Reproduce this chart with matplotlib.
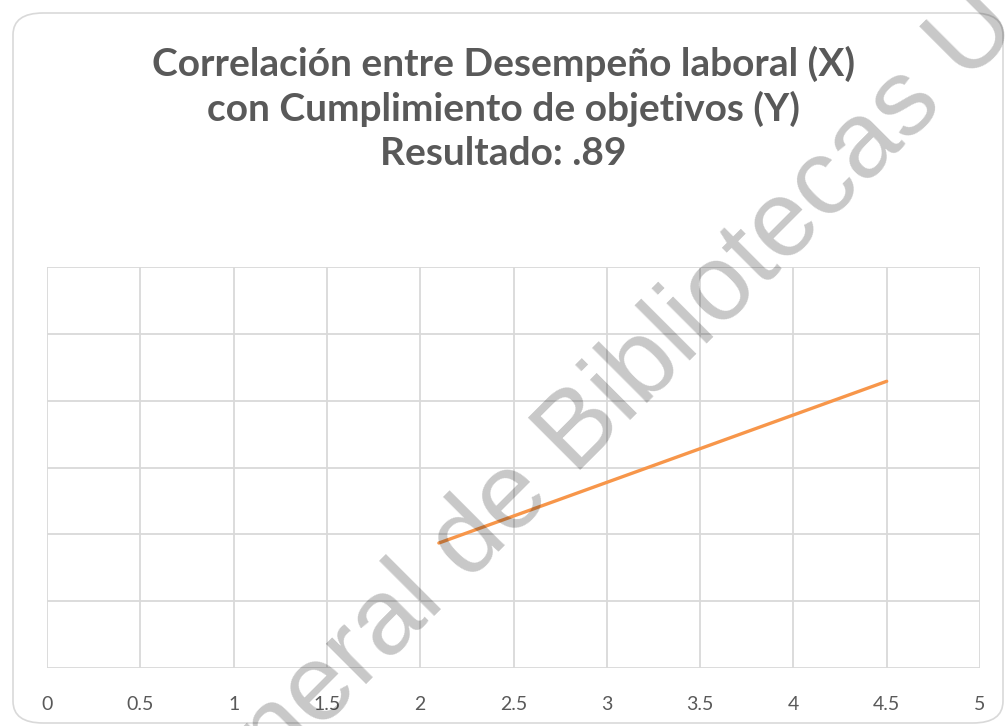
import matplotlib.pyplot as plt
from matplotlib.patches import FancyBboxPatch

# datos
x_vals = [2.1, 4.5]
y_vals = [1.87, 4.29]
x_ticks = [0, 0.5, 1, 1.5, 2, 2.5, 3, 3.5, 4, 4.5, 5]
titulo = "Correlación entre Desempeño laboral (X)\ncon Cumplimiento de objetivos (Y)\nResultado: .89"
marca = "neral de Bibliotecas U"

gris_txt = '#595959'
gris_grid = '#d9d9d9'

fig = plt.figure(figsize=(10.07, 7.26), dpi=100)
fig.patch.set_facecolor('white')

# borde redondeado del gráfico
borde = FancyBboxPatch((13 / 1007, 3 / 726), 990 / 1007, 710 / 726,
                       boxstyle="round,pad=0,rounding_size=0.03",
                       transform=fig.transFigure, facecolor='white',
                       edgecolor=gris_grid, linewidth=1.2, zorder=-1)
fig.add_artist(borde)

ax = fig.add_axes([47 / 1007, 58 / 726, 933 / 1007, 401 / 726])
ax.set_facecolor('none')
ax.plot(x_vals, y_vals, color='#f7964a', linewidth=2.4, solid_capstyle='round', zorder=3)

ax.set_xlim(0, 5)
ax.set_ylim(0, 6)
ax.set_xticks(x_ticks)
ax.set_xticklabels([f"{t:g}" for t in x_ticks], family='Lato', fontsize=14, color=gris_txt)
ax.set_yticks(range(0, 7))
ax.set_yticklabels([])
ax.tick_params(axis='both', length=0, pad=20)
ax.grid(True, color=gris_grid, linewidth=1.3)
for s in ax.spines.values():
    s.set_visible(False)

fig.text(0.5, 1 - 108 / 726, titulo, ha='center', va='center', family='Lato',
         fontweight='bold', fontsize=28, color=gris_txt, linespacing=1.3)

# marca de agua
fig.text(276 / 1007, 1 - 774 / 726, marca, ha='left', va='baseline', rotation=45,
         family='Liberation Sans', fontsize=78, color='black', alpha=0.22,
         rotation_mode='anchor', zorder=10)

fig.savefig('out.png', dpi=100)
